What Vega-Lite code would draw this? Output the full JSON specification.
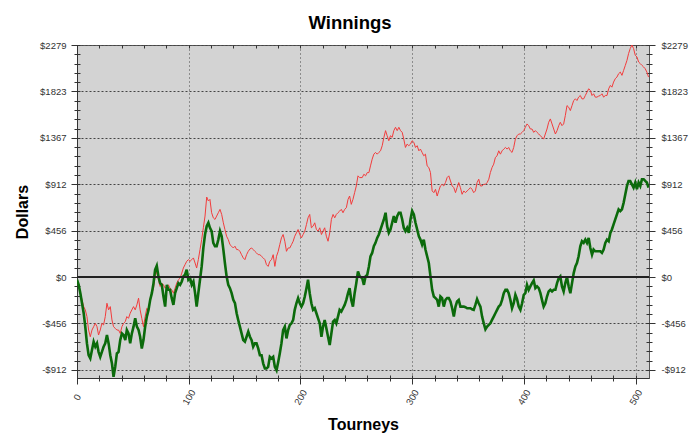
{
"$schema":"https://vega.github.io/schema/vega-lite/v6.json",
"width":572,"height":333,
"autosize":"none",
"padding":{"left":77,"top":45,"right":51,"bottom":69},
"background":"white",
"title":{"text":"Winnings","font":"Liberation Sans","fontSize":18.5,"fontWeight":"bold","color":"#000","anchor":"middle","dx":-13,"dy":23,"offset":16,"baseline":"alphabetic"},
"config":{"view":{"fill":"#d3d3d3","stroke":"#555","strokeWidth":1},
"axis":{"labelFont":"Liberation Sans","titleFont":"Liberation Sans","labelFontSize":9.5,"labelColor":"#333","tickColor":"#333","domainColor":"#333","titleColor":"#000","titleFontSize":16,"titleFontWeight":"bold","labelFlush":false,"labelOverlap":false,"gridColor":"#444","gridOpacity":1}},
"data":{"values":[
{"t":0,"g":-26,"r":-26},{"t":1.5,"g":-76,"r":-92},{"t":3.0,"g":-158,"r":-158},{"t":4.5,"g":-257,"r":-224},{"t":6.0,"g":-355,"r":-290},{"t":7.4,"g":-487,"r":-322},{"t":8.9,"g":-651,"r":-388},{"t":10.4,"g":-767,"r":-520},{"t":11.9,"g":-799,"r":-586},{"t":13.4,"g":-717,"r":-520},{"t":14.9,"g":-635,"r":-487},{"t":16.4,"g":-684,"r":-454},{"t":17.9,"g":-651,"r":-487},{"t":19.3,"g":-734,"r":-569},{"t":20.8,"g":-783,"r":-520},{"t":22.3,"g":-734,"r":-454},{"t":23.8,"g":-684,"r":-470},{"t":25.3,"g":-651,"r":-388},{"t":26.8,"g":-569,"r":-257},{"t":28.3,"g":-651,"r":-322},{"t":29.8,"g":-767,"r":-290},{"t":31.3,"g":-849,"r":-421},{"t":32.7,"g":-980,"r":-487},{"t":34.2,"g":-882,"r":-503},{"t":35.7,"g":-750,"r":-520},{"t":37.2,"g":-734,"r":-520},{"t":38.7,"g":-619,"r":-553},{"t":40.2,"g":-553,"r":-487},{"t":41.7,"g":-569,"r":-454},{"t":43.2,"g":-619,"r":-438},{"t":44.6,"g":-520,"r":-388},{"t":46.1,"g":-553,"r":-405},{"t":47.6,"g":-651,"r":-355},{"t":49.1,"g":-553,"r":-322},{"t":50.6,"g":-487,"r":-290},{"t":52.1,"g":-405,"r":-322},{"t":53.6,"g":-487,"r":-273},{"t":55.1,"g":-520,"r":-207},{"t":56.5,"g":-586,"r":-322},{"t":58.0,"g":-701,"r":-405},{"t":59.5,"g":-619,"r":-487},{"t":61.0,"g":-487,"r":-388},{"t":62.5,"g":-388,"r":-306},{"t":64.0,"g":-322,"r":-322},{"t":65.5,"g":-224,"r":-207},{"t":67.0,"g":-158,"r":-158},{"t":68.5,"g":-59,"r":-109},{"t":69.9,"g":72,"r":7},{"t":71.4,"g":112,"r":56},{"t":72.9,"g":7,"r":-26},{"t":74.4,"g":-59,"r":-92},{"t":75.9,"g":-76,"r":-59},{"t":77.4,"g":-191,"r":-76},{"t":78.9,"g":-290,"r":-109},{"t":80.4,"g":-76,"r":-92},{"t":81.8,"g":-125,"r":-76},{"t":83.3,"g":-125,"r":-109},{"t":84.8,"g":-207,"r":-125},{"t":86.3,"g":-273,"r":-158},{"t":87.8,"g":-158,"r":-109},{"t":89.3,"g":-109,"r":-59},{"t":90.8,"g":-59,"r":-26},{"t":92.3,"g":-76,"r":-10},{"t":93.8,"g":-43,"r":39},{"t":95.2,"g":7,"r":89},{"t":96.7,"g":23,"r":122},{"t":98.2,"g":72,"r":155},{"t":99.7,"g":-26,"r":171},{"t":101.2,"g":-10,"r":155},{"t":102.7,"g":-76,"r":171},{"t":104.2,"g":-43,"r":188},{"t":105.7,"g":-158,"r":138},{"t":107.1,"g":-290,"r":89},{"t":108.6,"g":-158,"r":171},{"t":110.1,"g":-26,"r":270},{"t":111.6,"g":105,"r":368},{"t":113.1,"g":286,"r":484},{"t":114.6,"g":418,"r":599},{"t":116.1,"g":500,"r":786},{"t":117.6,"g":533,"r":747},{"t":119.0,"g":484,"r":763},{"t":120.5,"g":451,"r":632},{"t":122.0,"g":336,"r":582},{"t":123.5,"g":303,"r":566},{"t":125.0,"g":303,"r":599},{"t":126.5,"g":368,"r":632},{"t":128.0,"g":451,"r":665},{"t":129.5,"g":401,"r":615},{"t":131.0,"g":270,"r":533},{"t":132.4,"g":138,"r":467},{"t":133.9,"g":7,"r":401},{"t":135.4,"g":-76,"r":368},{"t":136.9,"g":-109,"r":319},{"t":138.4,"g":-158,"r":303},{"t":139.9,"g":-224,"r":286},{"t":141.4,"g":-257,"r":303},{"t":142.9,"g":-355,"r":270},{"t":144.3,"g":-421,"r":270},{"t":145.8,"g":-487,"r":253},{"t":147.3,"g":-553,"r":220},{"t":148.8,"g":-619,"r":188},{"t":150.3,"g":-635,"r":171},{"t":151.8,"g":-586,"r":220},{"t":153.3,"g":-536,"r":253},{"t":154.8,"g":-586,"r":276},{"t":156.3,"g":-619,"r":286},{"t":157.7,"g":-684,"r":270},{"t":159.2,"g":-651,"r":253},{"t":160.7,"g":-651,"r":237},{"t":162.2,"g":-701,"r":220},{"t":163.7,"g":-767,"r":220},{"t":165.2,"g":-767,"r":204},{"t":166.7,"g":-849,"r":188},{"t":168.2,"g":-898,"r":171},{"t":169.6,"g":-898,"r":122},{"t":171.1,"g":-882,"r":105},{"t":172.6,"g":-783,"r":155},{"t":174.1,"g":-799,"r":171},{"t":175.6,"g":-783,"r":220},{"t":177.1,"g":-882,"r":105},{"t":178.6,"g":-915,"r":204},{"t":180.1,"g":-833,"r":253},{"t":181.5,"g":-750,"r":319},{"t":183.0,"g":-651,"r":385},{"t":184.5,"g":-520,"r":418},{"t":186.0,"g":-487,"r":352},{"t":187.5,"g":-602,"r":253},{"t":189.0,"g":-520,"r":286},{"t":190.5,"g":-470,"r":286},{"t":192.0,"g":-454,"r":319},{"t":193.5,"g":-421,"r":352},{"t":194.9,"g":-322,"r":401},{"t":196.4,"g":-257,"r":434},{"t":197.9,"g":-207,"r":467},{"t":199.4,"g":-257,"r":418},{"t":200.9,"g":-290,"r":385},{"t":202.4,"g":-257,"r":418},{"t":203.9,"g":-191,"r":451},{"t":205.4,"g":-109,"r":517},{"t":206.8,"g":-26,"r":582},{"t":208.3,"g":-158,"r":615},{"t":209.8,"g":-257,"r":484},{"t":211.3,"g":-322,"r":500},{"t":212.8,"g":-306,"r":533},{"t":214.3,"g":-355,"r":467},{"t":215.8,"g":-405,"r":451},{"t":217.3,"g":-454,"r":484},{"t":218.8,"g":-586,"r":418},{"t":220.2,"g":-487,"r":451},{"t":221.7,"g":-421,"r":484},{"t":223.2,"g":-503,"r":401},{"t":224.7,"g":-586,"r":352},{"t":226.2,"g":-668,"r":434},{"t":227.7,"g":-553,"r":566},{"t":229.2,"g":-438,"r":615},{"t":230.7,"g":-421,"r":582},{"t":232.1,"g":-454,"r":615},{"t":233.6,"g":-388,"r":632},{"t":235.1,"g":-322,"r":648},{"t":236.6,"g":-339,"r":665},{"t":238.1,"g":-306,"r":632},{"t":239.6,"g":-273,"r":665},{"t":241.1,"g":-224,"r":681},{"t":242.6,"g":-158,"r":763},{"t":244.0,"g":-109,"r":796},{"t":245.5,"g":-224,"r":714},{"t":247.0,"g":-290,"r":763},{"t":248.5,"g":-158,"r":829},{"t":250.0,"g":-59,"r":895},{"t":251.5,"g":56,"r":994},{"t":253.0,"g":7,"r":977},
{"t":255.3,"g":-10,"r":977},{"t":256.8,"g":-76,"r":1010},{"t":258.3,"g":7,"r":994},{"t":259.8,"g":23,"r":1026},{"t":261.3,"g":105,"r":1026},{"t":262.7,"g":204,"r":1092},{"t":264.2,"g":237,"r":1158},{"t":265.7,"g":303,"r":1207},{"t":267.2,"g":336,"r":1224},{"t":268.7,"g":385,"r":1207},{"t":270.2,"g":418,"r":1224},{"t":271.7,"g":467,"r":1240},{"t":273.2,"g":517,"r":1290},{"t":274.7,"g":566,"r":1372},{"t":276.2,"g":632,"r":1438},{"t":277.6,"g":500,"r":1388},{"t":279.1,"g":434,"r":1339},{"t":280.6,"g":467,"r":1388},{"t":282.1,"g":533,"r":1372},{"t":283.6,"g":599,"r":1438},{"t":285.1,"g":533,"r":1471},{"t":286.6,"g":599,"r":1438},{"t":288.1,"g":632,"r":1471},{"t":289.6,"g":632,"r":1438},{"t":291.1,"g":566,"r":1421},{"t":292.5,"g":484,"r":1355},{"t":294.0,"g":451,"r":1273},{"t":295.5,"g":484,"r":1306},{"t":297.0,"g":434,"r":1290},{"t":298.5,"g":566,"r":1306},{"t":300.0,"g":648,"r":1339},{"t":301.5,"g":615,"r":1323},{"t":303.0,"g":533,"r":1273},{"t":304.5,"g":467,"r":1290},{"t":306.0,"g":401,"r":1240},{"t":307.4,"g":368,"r":1257},{"t":308.9,"g":319,"r":1224},{"t":310.4,"g":368,"r":1191},{"t":311.9,"g":270,"r":1207},{"t":313.4,"g":204,"r":1092},{"t":314.9,"g":138,"r":1076},{"t":316.4,"g":7,"r":1026},{"t":317.9,"g":-125,"r":846},{"t":319.4,"g":-191,"r":829},{"t":320.9,"g":-207,"r":862},{"t":322.4,"g":-224,"r":796},{"t":323.8,"g":-290,"r":846},{"t":325.3,"g":-191,"r":895},{"t":326.8,"g":-207,"r":911},{"t":328.3,"g":-290,"r":895},{"t":329.8,"g":-224,"r":928},{"t":331.3,"g":-207,"r":977},{"t":332.8,"g":-207,"r":994},{"t":334.3,"g":-240,"r":944},{"t":335.8,"g":-306,"r":895},{"t":337.3,"g":-388,"r":878},{"t":338.8,"g":-290,"r":829},{"t":340.2,"g":-240,"r":878},{"t":341.7,"g":-224,"r":928},{"t":343.2,"g":-290,"r":878},{"t":344.7,"g":-290,"r":813},{"t":346.2,"g":-290,"r":846},{"t":347.7,"g":-296,"r":829},{"t":349.2,"g":-306,"r":846},{"t":350.7,"g":-306,"r":862},{"t":352.2,"g":-306,"r":878},{"t":353.6,"g":-316,"r":862},{"t":355.1,"g":-322,"r":829},{"t":356.6,"g":-273,"r":846},{"t":358.1,"g":-217,"r":928},{"t":359.6,"g":-257,"r":961},{"t":361.1,"g":-290,"r":895},{"t":362.6,"g":-388,"r":895},{"t":364.1,"g":-454,"r":911},{"t":365.6,"g":-513,"r":911},{"t":367.1,"g":-487,"r":928},{"t":368.6,"g":-470,"r":961},{"t":370.0,"g":-454,"r":1026},{"t":371.5,"g":-421,"r":1076},{"t":373.0,"g":-388,"r":1109},{"t":374.5,"g":-355,"r":1175},{"t":376.0,"g":-322,"r":1191},{"t":377.5,"g":-290,"r":1240},{"t":379.0,"g":-273,"r":1207},{"t":380.5,"g":-224,"r":1240},{"t":382.0,"g":-158,"r":1257},{"t":383.5,"g":-125,"r":1273},{"t":385.0,"g":-125,"r":1257},{"t":386.4,"g":-158,"r":1273},{"t":387.9,"g":-224,"r":1240},{"t":389.4,"g":-306,"r":1224},{"t":390.9,"g":-257,"r":1273},{"t":392.4,"g":-174,"r":1355},{"t":393.9,"g":-217,"r":1388},{"t":395.4,"g":-290,"r":1405},{"t":396.9,"g":-322,"r":1405},{"t":398.4,"g":-257,"r":1421},{"t":399.9,"g":-174,"r":1438},{"t":401.3,"g":-158,"r":1471},{"t":402.8,"g":-76,"r":1504},{"t":404.3,"g":-125,"r":1487},{"t":405.8,"g":-92,"r":1454},{"t":407.3,"g":-59,"r":1454},{"t":408.8,"g":-33,"r":1421},{"t":410.3,"g":-109,"r":1438},{"t":411.8,"g":-92,"r":1421},{"t":413.3,"g":-109,"r":1405},{"t":414.8,"g":-158,"r":1388},{"t":416.2,"g":-224,"r":1372},{"t":417.7,"g":-290,"r":1355},{"t":419.2,"g":-257,"r":1405},{"t":420.7,"g":-191,"r":1454},{"t":422.2,"g":-141,"r":1520},{"t":423.7,"g":-125,"r":1553},{"t":425.2,"g":-141,"r":1504},{"t":426.7,"g":-125,"r":1454},{"t":428.2,"g":-125,"r":1405},{"t":429.7,"g":-59,"r":1438},{"t":431.2,"g":-10,"r":1487},{"t":432.6,"g":7,"r":1520},{"t":434.1,"g":-92,"r":1487},{"t":435.6,"g":-141,"r":1504},{"t":437.1,"g":-59,"r":1586},{"t":438.6,"g":0,"r":1684},{"t":440.1,"g":-92,"r":1668},{"t":441.6,"g":-158,"r":1635},{"t":443.1,"g":-59,"r":1684},{"t":444.6,"g":39,"r":1734},{"t":446.1,"g":105,"r":1750},{"t":447.5,"g":138,"r":1734},{"t":449.0,"g":204,"r":1767},{"t":450.5,"g":303,"r":1783},{"t":452.0,"g":352,"r":1750},{"t":453.5,"g":336,"r":1750},{"t":455.0,"g":368,"r":1783},{"t":456.5,"g":336,"r":1816},{"t":458.0,"g":385,"r":1849},{"t":459.5,"g":286,"r":1833},{"t":461.0,"g":220,"r":1783},{"t":462.4,"g":270,"r":1800},{"t":463.9,"g":253,"r":1767},{"t":465.4,"g":253,"r":1767},{"t":466.9,"g":253,"r":1777},{"t":468.4,"g":253,"r":1783},{"t":469.9,"g":237,"r":1800},{"t":471.4,"g":270,"r":1767},{"t":472.9,"g":336,"r":1783},{"t":474.4,"g":368,"r":1783},{"t":475.9,"g":352,"r":1849},{"t":477.4,"g":434,"r":1882},{"t":478.8,"g":467,"r":1865},{"t":480.3,"g":517,"r":1915},{"t":481.8,"g":566,"r":1948},{"t":483.3,"g":615,"r":1964},{"t":484.8,"g":665,"r":1997},{"t":486.3,"g":648,"r":2013},{"t":487.8,"g":665,"r":1981},{"t":489.3,"g":730,"r":2030},{"t":490.8,"g":813,"r":2079},{"t":492.3,"g":895,"r":2129},{"t":493.7,"g":944,"r":2194},{"t":495.2,"g":944,"r":2244},{"t":496.7,"g":911,"r":2279},{"t":498.2,"g":878,"r":2244},{"t":499.7,"g":928,"r":2178},{"t":501.2,"g":862,"r":2162},{"t":502.7,"g":928,"r":2112},{"t":504.2,"g":895,"r":2096},{"t":505.7,"g":961,"r":2079},{"t":507.2,"g":961,"r":2063},{"t":508.6,"g":944,"r":2046},{"t":510.1,"g":928,"r":2013},{"t":511.6,"g":878,"r":1964}
]},
"layer":[
{"mark":{"type":"line","color":"#f23c3c","strokeWidth":1,"clip":true},
 "encoding":{
  "x":{"field":"t","type":"quantitative","scale":{"domain":[0,512],"nice":false,"zero":false},
   "axis":{"orient":"bottom","values":[0,100,200,300,400,500],"title":"Tourneys","grid":true,"gridDash":[1,3],"tickSize":6,"labelAngle":-60,"labelAlign":"center","labelBaseline":"middle","labelPadding":13,"titlePadding":10}},
  "y":{"field":"r","type":"quantitative","scale":{"domain":[-991,2279],"nice":false,"zero":false},
   "axis":{"orient":"left","values":[-911.6,-455.8,0,455.8,911.6,1367.4,1823.2,2279],"labelExpr":"(datum.value < 0 ? '-$' : '$') + format(abs(datum.value), '.0f')","title":"Dollars","grid":true,"gridDash":[2,2],"tickSize":6,"labelPadding":5,"titlePadding":9}}}},
{"mark":{"type":"line","color":"#0b6a0b","strokeWidth":2.6,"clip":true},
 "encoding":{
  "x":{"field":"t","type":"quantitative","scale":{"domain":[0,512],"nice":false,"zero":false},
   "axis":{"orient":"bottom","values":[0,20,40,60,80,100,120,140,160,180,200,220,240,260,280,300,320,340,360,380,400,420,440,460,480,500],"labels":false,"domain":false,"grid":false,"title":null,"tickSize":6,"offset":-3}},
  "y":{"field":"g","type":"quantitative","scale":{"domain":[-991,2279],"nice":false,"zero":false},
   "axis":{"orient":"right","values":[-911.6,-455.8,0,455.8,911.6,1367.4,1823.2,2279],"labelExpr":"(datum.value < 0 ? '-$' : '$') + format(abs(datum.value), '.0f')","title":null,"grid":false,"tickSize":6,"labelPadding":6,"domainColor":"#555"}}}},
{"mark":{"type":"rule","color":"#222","strokeWidth":1.2},
 "encoding":{
  "y":{"datum":0,"type":"quantitative","scale":{"domain":[-991,2279],"nice":false,"zero":false},
   "axis":{"orient":"left","values":[-911.6,-820.4,-729.3,-638.1,-547,-455.8,-364.6,-273.5,-182.3,-91.2,0,91.2,182.3,273.5,364.6,455.8,547,638.1,729.3,820.4,911.6,1002.8,1093.9,1185.1,1276.2,1367.4,1458.6,1549.7,1640.9,1732,1823.2,1914.4,2005.5,2096.7,2187.8,2279],"labels":false,"domain":false,"grid":false,"title":null,"tickSize":6,"offset":-3}}}},
{"mark":{"type":"line","strokeOpacity":0,"clip":true},
 "encoding":{
  "x":{"field":"t","type":"quantitative","scale":{"domain":[0,512],"nice":false,"zero":false},
   "axis":{"orient":"top","values":[0,20,40,60,80,100,120,140,160,180,200,220,240,260,280,300,320,340,360,380,400,420,440,460,480,500],"labels":false,"domain":false,"grid":false,"title":null,"tickSize":3,"offset":-3}},
  "y":{"field":"r","type":"quantitative","scale":{"domain":[-991,2279],"nice":false,"zero":false},
   "axis":{"orient":"right","values":[-911.6,-820.4,-729.3,-638.1,-547,-455.8,-364.6,-273.5,-182.3,-91.2,0,91.2,182.3,273.5,364.6,455.8,547,638.1,729.3,820.4,911.6,1002.8,1093.9,1185.1,1276.2,1367.4,1458.6,1549.7,1640.9,1732,1823.2,1914.4,2005.5,2096.7,2187.8,2279],"labels":false,"domain":false,"grid":false,"title":null,"tickSize":6,"offset":-3}}}}
],
"resolve":{"axis":{"x":"independent","y":"independent"}}
}
